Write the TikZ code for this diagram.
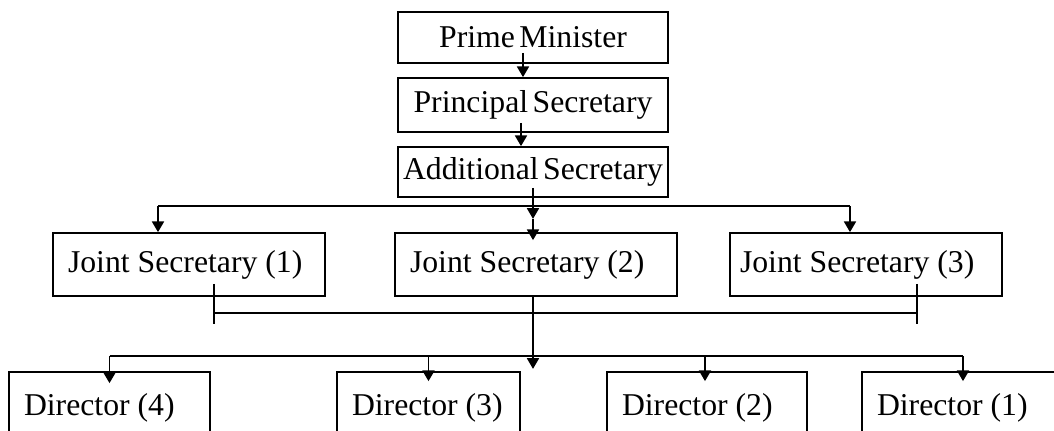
\documentclass[tikz,border=0pt]{standalone}
\usepackage{fontspec}
\setmainfont{Liberation Serif}
\usetikzlibrary{arrows.meta,calc}
\newcommand{\lbox}[2]{\makebox[#1][l]{#2}}
\newcommand{\tightsp}{\spaceskip=0.14em\relax}
\begin{document}
\begin{tikzpicture}[x=0.75pt,y=-0.75pt,
  every node/.style={font=\fontsize{23.8}{28}\selectfont},
  topbox/.style={draw,line width=1.3pt,inner sep=0pt,minimum width=202.5pt},
  lowbox/.style={draw,line width=1.3pt,inner ysep=0pt,inner xsep=11.25pt},
  conn/.style={line width=1.3pt},
  arr/.style={line width=1.3pt,-{Triangle[length=8pt,width=9pt]}}]
\useasboundingbox (0,0) rectangle (1054,430);
\clip (0,0) rectangle (1054,430);
% top chain
\node[topbox,minimum height=38.25pt] (pm) at (533,37.5) {\tightsp Prime Minister};
\node[topbox,minimum height=40.5pt] (ps) at (533,105) {\tightsp Principal Secretary};
\node[topbox,minimum height=37.5pt] (as) at (533,172) {\tightsp Additional Secretary};
% joint secretaries
\node[lowbox,minimum height=47.25pt] (js1) at (189,264.5) {\lbox{181.5pt}{Joint Secretary (1)}};
\node[lowbox,minimum height=47.25pt] (js2) at (536,264.5) {\lbox{189pt}{Joint Secretary (2)}};
\node[lowbox,inner xsep=7.5pt,minimum height=47.25pt] (js3) at (866,264.5) {\lbox{189pt}{Joint Secretary (3)}};
% directors
\node[lowbox,minimum height=54pt] (d4) at (109.5,408) {\lbox{128.25pt}{Director (4)}};
\node[lowbox,minimum height=54pt] (d3) at (428.5,408) {\lbox{114.75pt}{Director (3)}};
\node[lowbox,minimum height=54pt] (d2) at (707,408) {\lbox{127.5pt}{Director (2)}};
\node[lowbox,minimum height=54pt] (d1) at (963,408) {\lbox{129pt}{Director (1)}};
% top arrows
\draw[arr] ($(pm.south)+(-10,-11)$) -- ($(ps.north)+(-10,0)$);
\draw[arr] ($(ps.south)+(-12,-10)$) -- ($(as.north)+(-12,0)$);
% additional secretary to joint secretaries
\coordinate (mid) at ($(as.south)+(0,21)$);
\coordinate (hL) at ($(js1.north)+(-31,-26)$);
\coordinate (hR) at ($(js3.north)+(-16,-26)$);
\draw[arr] ($(as.south)+(0,-10)$) -- (mid);
\draw[arr] (mid) -- ($(js2.north)+(-3,8)$);
\draw[conn] (hL) -- (hR);
\draw[arr] (hL) -- ($(js1.north)+(-31,0)$);
\draw[arr] (hR) -- ($(js3.north)+(-16,0)$);
% joint secretaries bar
\draw[conn] ($(js1.south)+(25,-13)$) -- ($(js1.south)+(25,27)$);
\draw[conn] ($(js3.south)+(51,-13)$) -- ($(js3.south)+(51,27)$);
\draw[conn] ($(js1.south)+(25,16)$) -- ($(js3.south)+(51,16)$);
\draw[arr] ($(js2.south)+(-3,0)$) -- ($(js2.south)+(-3,72)$);
% directors bar
\coordinate (bL) at ($(d4.north)+(0,-15)$);
\coordinate (bR) at ($(d1.north)+(0,-15)$);
\draw[conn] (bL) -- (bR);
\draw[arr] (bL) -- ($(d4.north)+(0,12)$);
\draw[arr] ($(d3.north)+(0,-15)$) -- ($(d3.north)+(0,10)$);
\draw[arr] ($(d2.north)+(-2,-15)$) -- ($(d2.north)+(-2,10)$);
\draw[arr] (bR) -- ($(d1.north)+(0,10)$);
\end{tikzpicture}
\end{document}
